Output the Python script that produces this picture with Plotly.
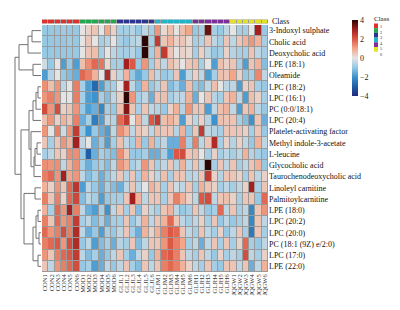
import plotly.graph_objects as go

metabolites = ["3-Indoxyl sulphate", "Cholic acid", "Deoxycholic acid", "LPE (18:1)", "Oleamide",
               "LPC (18:2)", "LPC (16:1)", "PC (0:0/18:1)", "LPC (20:4)", "Platelet-activating factor",
               "Methyl indole-3-acetate", "L-leucine", "Glycocholic acid", "Taurochenodeoxycholic acid",
               "Linoleyl carnitine", "Palmitoylcarnitine", "LPE (18:0)", "LPC (20:2)", "LPC (20:0)",
               "PC (18:1 (9Z) e/2:0)", "LPC (17:0)", "LPE (22:0)"]

groups = ["CON", "MOD", "GLJL", "GLJM", "GLJH", "JQGW"]
samples = [g + str(i) for g in groups for i in range(1, 7)]
sample_class = [1]*6 + [2]*6 + [3]*6 + [4]*6 + [5]*6 + [6]*6

r00 = [-1,-1,-1,-0.9,-1,-1, 0,0.3,0.5,0,1,0.3, -0.8,-0.8,-0.6,-1,-0.5,-0.8, 1.2,0.2,0.6,0,0.6,1.0, -1,-0.8,3.5,-0.8,-1,-0.5, 0,-0.8,-0.8,0,3,-1]
r01 = [-1,-1,-1,-1,-0.9,-1, 0,0.5,0,-0.8,-0.6,0, -0.8,-1,-0.6,-0.5,4,-0.8, 2.5,0.5,0.8,0.3,0.5,0.2, -0.8,-0.6,0.5,-0.5,-0.8,0.5, -0.5,0.5,0.8,1.2,0.8,-0.8]
r02 = [-1,-1,-1,-1,-1,-1, 0,0.5,0.6,-0.8,0,-0.5, -0.8,-0.8,-0.6,-1,4,-0.8, 0.8,2.5,0.5,0,0.3,0.2, -0.8,0.3,-0.5,-1,-0.8,0.3, -0.6,-0.8,-0.8,0.5,-0.5,-0.8]
r03 = [-0.3,-1,0,-1.8,-1,-1.8, 0.6,1.3,1.8,1.6,0.2,-0.8, -0.8,3.0,2.0,-1,1.2,-0.8, 0.5,-0.5,0.6,0.3,0,0.5, 0.6,-0.8,0,-1.8,0.6,0.3, 0.5,-0.8,-1.8,0.5,0.8,-1.2]
r04 = [-1.8,-0.6,0,-1,-1.2,-1.5, 1.8,1.5,0.8,0,2.8,0.3, -0.5,0.8,-1,-1.6,-1,0.6, -0.5,-1,-0.8,0.5,-1.8,-0.5, 0.3,-0.5,-1.8,-0.8,0.6,0.5, 1.0,0.3,-1,-0.8,1.4,-0.5]
r05 = [1.3,0.6,1.2,-0.5,0,1.5, -0.8,-1.8,-2.8,-1.8,-1,-0.8, 0,3.0,-0.5,-1.2,0.8,-1, -0.6,0.5,-1.2,-0.8,-1.5,0.6, -1,-1.2,-0.5,0.6,0,-0.5, -0.5,-1.8,0.3,0.5,-0.8,-1]
r06 = [1.2,1.5,1.2,0,0,1.5, -0.8,-1.8,-2,-0.8,-1.2,-0.5, 0.3,4.2,1.2,-0.8,-0.5,-1.5, 0.5,0.6,-0.8,-0.5,-0.5,0.8, -1.5,0,0.5,-0.6,-0.8,0.5, 0.8,-0.5,-1.8,0.6,0.3,-0.8]
r07 = [2.2,1.2,2.2,0.3,0.5,1.2, -1,-1.8,-1.5,-2.2,-0.8,-1, 0.6,3.3,0.5,-0.8,0.5,-0.5, -0.6,-1,0.3,0.8,-0.6,1.2, 0.5,0.5,-1.8,-0.5,0.6,0.8, -0.5,-1.8,0.5,0.8,-0.5,-1]
r08 = [0.6,1.2,0.3,0.8,0.5,1.5, -1.5,-0.8,-2.4,-1.8,-0.5,-0.6, 1.8,2.5,0,0.8,-0.5,2.0, 2.5,0.6,0.8,0.5,-1.8,0.3, -0.5,0.3,-0.6,-2,0.6,0.5, 0.5,-0.8,-1.2,-2,0.5,-1.5]
r09 = [1.2,0,1.5,-0.3,1.2,2.5, -1,-2,-1,-1.5,-1.8,-0.5, 1.3,0.8,-0.5,0.5,0.3,-0.5, 0.6,0.5,0.5,-0.6,0.8,-1, 0.5,2.5,-0.5,-0.6,-0.8,0.5, 0.5,0.5,0.3,-0.8,0.5,-1]
r10 = [0.5,-0.8,0.5,1.2,0.8,3.0, -0.5,0,-1.5,-1,-1.8,-0.8, 0.6,-0.5,-0.8,0.8,-1,0.8, -0.8,-0.5,-1.5,-1.5,1.5,-0.8, 1.5,-0.5,0.5,2.8,-0.8,0.3, -0.6,0.3,-0.5,-1,0.8,-0.5]
r11 = [-0.8,-0.5,0.5,0.3,1.3,1.3, -1,-3,-1.5,-0.8,-1,-1.2, 1.3,0.5,-1,-1,-0.8,-1.5, -1.5,-0.8,-1.8,2.0,2.2,0.5, 0.6,0,-0.8,0.3,-0.8,-0.5, -0.8,-0.5,0.8,-0.6,-0.8,-1]
r12 = [1.3,1.2,1.3,-0.5,0.8,1.3, -0.8,-1.5,-1,-0.8,-1.2,-0.5, 1.2,0.8,-0.8,-0.5,1.2,0.5, -0.8,-0.5,0.5,-0.6,0.8,-0.5, 0.5,-0.5,4.2,-0.8,0.5,-0.5, 0.5,-0.8,-0.5,0.5,0.8,-1]
r13 = [1.5,1.8,1.2,3.0,1.0,1.2, -0.5,-1.2,-0.8,-1.5,-1,-0.5, 0.5,-0.6,0.5,-0.8,0.8,0.3, -0.5,0.6,-0.8,0.5,0.5,-0.6, -0.5,0.5,2.5,0.3,-0.6,0.5, 0.5,0.3,-0.8,0.5,-0.5,0.3]
r14 = [0.8,0.3,1.2,0.5,1.8,2.6, -1.8,-0.5,-1,-1.5,-0.8,-1.2, -1.5,-0.5,0.5,-0.6,0,0.8, 0.5,-0.8,0.5,-0.3,-0.5,0.5, -0.8,0.8,0.5,0.3,-0.8,-0.5, -0.8,-0.5,0.3,3.0,-0.8,0.5]
r15 = [1.5,0.5,1.5,0.3,1.8,2.3, -1.2,-0.5,-0.8,-1.8,-1,-0.8, -0.8,0.5,3.0,0.8,-0.5,0.5, 0.5,-0.8,0.5,1.5,0.8,0.3, -0.5,2.0,2.2,-0.5,0.5,0.6, 0.3,-0.8,0.5,0.5,-1,1.8]
r16 = [0.8,-0.8,1.8,1.2,3.0,1.5, -0.5,-1.5,-1.8,-0.8,-2,-0.5, 0.5,-0.8,0.5,-1.2,0.3,-0.5, -0.8,0.5,0.8,-0.5,-1,-0.8, 0.5,-0.5,-1,-0.8,1.8,-0.5, 0.5,-0.8,-0.5,-2.2,0.5,1.2]
r17 = [1.5,0.5,1.8,1.2,1.5,2.5, -0.8,-0.5,-1.2,-0.8,-1.5,-0.8, -0.8,0.5,-1,-0.5,0.8,-0.5, 0.5,0.8,1.8,0.5,-0.5,-0.8, -0.5,0.3,-0.8,0.5,-1,-0.5, -1,-0.8,-0.5,-2.2,0.5,-0.5]
r18 = [1.8,1.2,1.5,2.2,1.5,2.8, -0.5,-1.5,-1,-1.8,-0.8,-1, -0.5,0.5,-0.8,-1.5,0.8,0.3, 0.8,1.5,2.0,1.8,0.5,-0.5, -0.8,0.5,-0.5,-0.8,0.3,-1, -0.5,0.5,-0.8,-2.5,0.5,-0.8]
r19 = [1.5,1.8,2.0,1.2,2.2,2.8, -1,-0.5,-1.8,-1.2,-0.8,-1.5, -0.6,-0.8,0.5,-1.2,-0.5,0.5, 0.5,1.2,2.0,1.5,1.0,-0.8, -0.5,-1.5,-0.5,0.5,-0.8,0.5, -0.8,0.3,1.8,-0.8,-1,-0.5]
r20 = [1.2,0.5,1.5,1.8,2.0,2.5, -0.5,-1.2,-0.8,-1.5,-1,-0.5, 0.5,-0.8,-1.5,-0.5,0.3,-1, 0.8,1.8,2.0,1.5,0.5,-0.5, -0.8,0.5,-0.5,-1,0.3,-0.8, -0.5,-0.8,2.2,-0.5,-0.8,0.3]
r21 = [0.5,-0.5,1.2,1.5,1.8,2.2, -1,-0.8,-1.8,-1.5,-0.5,-1, -0.5,0.5,-0.8,-1.2,0.5,-0.5, 0.5,1.5,1.8,1.5,0.8,0.3, -0.5,-0.8,0.5,-0.8,-1,0.5, 0.5,-0.5,0.5,-1.5,-0.5,0.8]
values = [r00, r01, r02, r03, r04, r05, r06, r07, r08, r09, r10, r11, r12, r13, r14, r15, r16, r17, r18, r19, r20, r21]

# row dendrogram merges: (child a, child b, height); leaves 0..21, merge k -> id 22+k
merges = [(0, 1, 9), (22, 2, 13), (3, 4, 8), (23, 24, 22),            # 22..25
          (5, 6, 3), (26, 7, 5), (27, 8, 8),                          # 26..28
          (10, 11, 4), (29, 12, 6), (30, 13, 7), (9, 31, 10),         # 29..32
          (28, 32, 12),                                               # 33
          (14, 15, 6), (16, 17, 3), (18, 19, 2), (35, 36, 5), (20, 21, 3), (37, 38, 8),  # 34..39
          (34, 39, 17), (33, 40, 20), (25, 41, 26)]                   # 40..42

class_colors = ["#e0312e", "#23a84e", "#2d3592", "#22b5c9", "#7b2e9c", "#e3e324"]
class_names = ["1", "2", "3", "4", "5", "6"]

W, H = 400, 310
def px(x): return x / W
def py(y): return 1 - y / H

heat_scale = [[0.0, "#22287a"], [0.125, "#1f5fa6"], [0.25, "#3c93cd"], [0.375, "#97c8e4"],
              [0.5, "#e4e4e4"], [0.625, "#f3a688"], [0.75, "#dc5846"], [0.875, "#a3201e"], [1.0, "#2c0505"]]

HX0, HX1, HY0, HY1 = 42, 268, 25, 272
CY0, CY1 = 19.5, 23.5

fig = go.Figure()
n = len(metabolites)
m = len(samples)
fig.add_trace(go.Heatmap(
    z=values, x=list(range(m)), y=list(range(n)), zmin=-4, zmax=4, colorscale=heat_scale,
    xgap=1, ygap=1, xaxis="x", yaxis="y",
    colorbar=dict(x=px(352), xanchor="left", y=py(20), yanchor="top", len=76 / H, lenmode="fraction",
                  thickness=6, outlinewidth=0, xpad=0, ypad=0, tickvals=[-4, -2, 0, 2, 4], ticks="",
                  tickfont=dict(family="Liberation Serif", size=8, color="#222"))))

cs2 = []
for i, c in enumerate(class_colors):
    cs2 += [[i / 6, c], [(i + 1) / 6, c]]
fig.add_trace(go.Heatmap(z=[sample_class], x=list(range(m)), y=[0], zmin=0.5, zmax=6.5,
                         colorscale=cs2, showscale=False, xgap=1, ygap=0, xaxis="x", yaxis="y3"))

# dendrogram
pos = {i: (float(i), 0.0) for i in range(n)}
xs, ys = [], []
for k, (a, b, h) in enumerate(merges):
    ya, ha = pos[a]
    yb, hb = pos[b]
    xs += [ha, h, h, hb, None]
    ys += [ya, ya, yb, yb, None]
    pos[n + k] = ((ya + yb) / 2, h)
fig.add_trace(go.Scatter(x=xs, y=ys, mode="lines", line=dict(color="#727272", width=1),
                         xaxis="x2", yaxis="y", hoverinfo="skip", showlegend=False, cliponaxis=False))

fig.update_layout(
    template="none",
    width=W, height=H, margin=dict(l=0, r=0, t=0, b=0, autoexpand=False), paper_bgcolor="white", plot_bgcolor="white",
    xaxis=dict(domain=[px(HX0), px(HX1)], range=[-0.5, m - 0.5], tickvals=list(range(m)), ticktext=samples,
               tickangle=-90, tickfont=dict(family="Liberation Serif", size=6.5, color="#333"),
               showgrid=False, zeroline=False, showline=False, ticks="", anchor="y", ticklabelstandoff=0,
               automargin=False),
    yaxis=dict(domain=[py(HY1), py(HY0)], range=[n - 0.5, -0.5], tickvals=list(range(n)), ticktext=metabolites,
               side="right", tickfont=dict(family="Liberation Serif", size=8, color="#111"),
               showgrid=False, zeroline=False, showline=False, ticks="", anchor="x", ticklabelstandoff=0,
               automargin=False),
    xaxis2=dict(domain=[0, px(41)], range=[41, 0], autorange=False, visible=False, anchor="y", automargin=False),
    yaxis3=dict(domain=[py(CY1), py(CY0)], range=[-0.5, 0.5], visible=False, anchor="x", automargin=False),
)

# grey cell borders behind the heatmaps
fig.add_shape(type="rect", xref="paper", yref="paper", x0=px(HX0), x1=px(HX1), y0=py(HY1), y1=py(HY0),
              fillcolor="#9a9a9a", line=dict(width=0), layer="below")
fig.add_shape(type="rect", xref="paper", yref="paper", x0=px(HX0), x1=px(HX1), y0=py(CY1), y1=py(CY0),
              fillcolor="#9a9a9a", line=dict(width=0), layer="below")

fig.add_annotation(x=px(270), y=py(21.5), xref="paper", yref="paper", text="Class", showarrow=False,
                   xanchor="left", yanchor="middle", font=dict(family="Liberation Serif", size=8, color="#111"))
fig.add_annotation(x=px(373), y=py(14), xref="paper", yref="paper", text="Class", showarrow=False,
                   xanchor="left", yanchor="top", borderpad=0,
                   font=dict(family="Liberation Serif", size=7, color="#111"))
for i, c in enumerate(class_colors):
    y0 = 23.5 + i * 4.7
    fig.add_shape(type="rect", xref="paper", yref="paper", x0=px(374), x1=px(378), y0=py(y0 + 4.7), y1=py(y0),
                  fillcolor=c, line=dict(width=0))
fig.add_annotation(x=px(379), y=py(22.5), xref="paper", yref="paper", text="<br>".join(class_names),
                   showarrow=False, xanchor="left", yanchor="top", align="left", borderpad=0,
                   font=dict(family="Liberation Serif", size=4.3, color="#333"))

fig.write_html("out.html", config={"displayModeBar": False},
               post_script="document.body.style.margin='0';document.body.style.overflow='hidden';")
